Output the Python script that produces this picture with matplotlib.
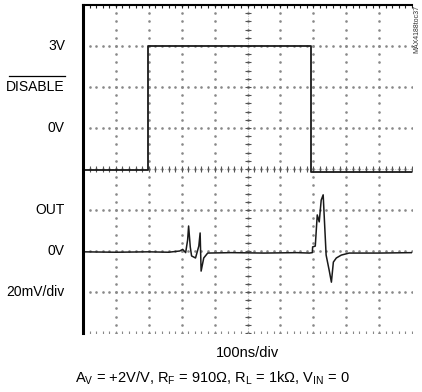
import numpy as np
import matplotlib.pyplot as plt

plt.rcParams['font.family'] = ['Liberation Sans', 'DejaVu Sans']

# DISABLE trace (divisions: x 0..10, y 0..8)
dis_x = [0.0, 1.97, 1.97, 6.94, 6.94, 10.0]
dis_y = [3.98, 3.98, 7.0, 7.0, 3.93, 3.93]

# OUT trace
out_x = [0.0, 1.0, 2.0, 2.6, 2.94, 3.03, 3.12, 3.18, 3.21, 3.26, 3.30, 3.42, 3.52,
         3.56, 3.59, 3.67, 3.79, 4.5, 5.5, 6.5, 6.88, 6.97, 6.98, 7.06, 7.12, 7.18,
         7.24, 7.30, 7.33, 7.39, 7.48, 7.55, 7.61, 7.70, 7.85, 8.09, 9.0, 10.0]
out_y = [1.98, 1.97, 1.98, 1.97, 2.0, 2.04, 1.96, 2.27, 2.61, 2.1, 1.88, 1.83, 2.12,
         2.44, 1.51, 1.83, 1.95, 1.96, 1.95, 1.96, 1.95, 1.96, 2.10, 2.12, 2.88, 2.71,
         3.24, 3.37, 2.88, 1.90, 1.54, 1.24, 1.73, 1.83, 1.90, 1.95, 1.95, 1.96]

left_labels = ['3V', 'DISABLE', '0V', 'OUT', '0V', '20mV/div']
left_label_y = [7, 6, 5, 3, 2, 1]

fig = plt.figure(figsize=(4.22, 3.92), dpi=100)
ax = fig.add_axes([0.1967, 0.1505, 0.7796, 0.8367])
ax.set_xlim(0, 10)
ax.set_ylim(0, 8)

# dotted graticule
gx, gy = np.meshgrid(np.arange(0, 10.01, 0.2), np.arange(1, 8))
ax.plot(gx.ravel(), gy.ravel(), ls='none', marker='s', ms=0.8, color='#888888')
gx, gy = np.meshgrid(np.arange(1, 10), np.arange(0, 8.01, 0.2))
ax.plot(gx.ravel(), gy.ravel(), ls='none', marker='s', ms=0.8, color='#888888')

# centre axes with minor ticks
ax.axvline(5, color='#666666', lw=0.4, ls=(0, (1, 2)))
ax.axhline(4, color='#666666', lw=0.4, ls=(0, (1, 2)))
tk = np.arange(0, 8.01, 0.2)
ax.plot(np.full_like(tk, 5), tk, ls='none', marker='_', ms=4, mew=0.8, color='#555555')
tk = np.arange(0, 10.01, 0.2)
ax.plot(tk, np.full_like(tk, 4), ls='none', marker='|', ms=4, mew=0.8, color='#555555')
ax.plot(tk, np.full_like(tk, 8), ls='none', marker='|', ms=5, mew=0.8, color='#222222')
ax.plot(tk, np.full_like(tk, 0), ls='none', marker='|', ms=3, mew=0.8, color='#888888')

ax.plot(dis_x, dis_y, color='#1a1a1a', lw=1.3)
ax.plot(out_x, out_y, color='#1a1a1a', lw=1.1)

for s in ['right', 'bottom']:
    ax.spines[s].set_visible(False)
ax.spines['left'].set_linewidth(2.2)
ax.spines['top'].set_linewidth(1.5)
ax.set_xticks([])
ax.set_yticks([])

for lab, yv in zip(left_labels, left_label_y):
    ax.text(-0.55, yv, lab, ha='right', va='center', fontsize=10, clip_on=False)
    if lab == 'DISABLE':
        # overline
        ax.plot([-2.25, -0.55], [yv + 0.26, yv + 0.26], color='black', lw=0.9, clip_on=False)

fig.text(248 / 422, 1 - 353 / 392, '100ns/div', ha='center', va='center', fontsize=10.5)
fig.text(212 / 422, 1 - 378 / 392,
         'A$_\\mathregular{V}$ = +2V/V, R$_\\mathregular{F}$ = 910\u03a9, '
         'R$_\\mathregular{L}$ = 1k\u03a9, V$_\\mathregular{IN}$ = 0',
         ha='center', va='center', fontsize=10.5)
fig.text(417 / 422, 1 - 5 / 392, 'MAX4188toc37', rotation=90, ha='center', va='top',
         fontsize=5, color='#333333')

fig.savefig('out.png', dpi=100)
